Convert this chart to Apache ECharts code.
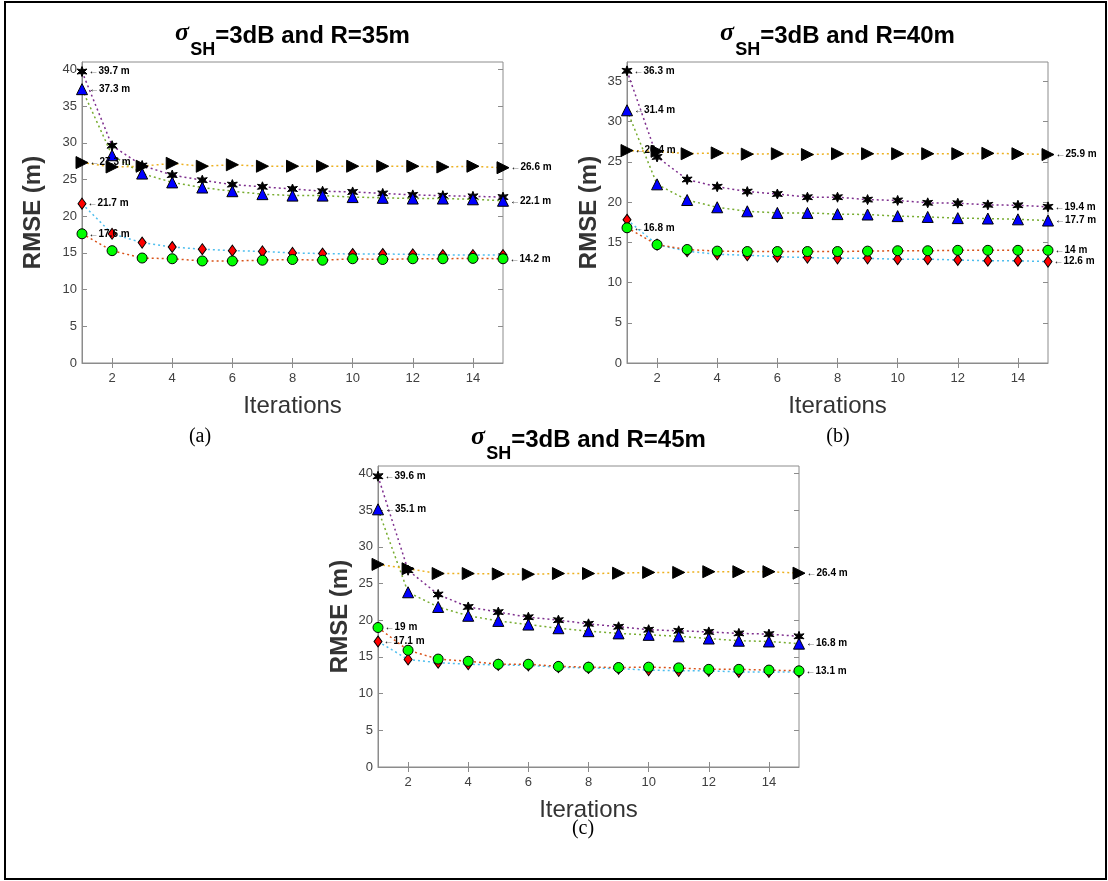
<!DOCTYPE html>
<html>
<head>
<meta charset="utf-8">
<title>RMSE vs iterations</title>
<script src="https://cdn.jsdelivr.net/npm/echarts@6.0.0/dist/echarts.min.js"></script>
<style>
    html, body { margin: 0; padding: 0; background: #fff; }
    #chart { width: 1108px; height: 881px; }
</style>
</head>
<body>
<div id="chart"></div>
<script>
// x values shared by every panel
var iterations = [1, 2, 3, 4, 5, 6, 7, 8, 9, 10, 11, 12, 13, 14, 15];
var xTicks = [2, 4, 6, 8, 10, 12, 14];

// (a) sigma_SH = 3 dB, R = 35 m
var starA = [39.7, 29.6, 26.9, 25.6, 24.9, 24.3, 24.0, 23.7, 23.4, 23.3, 23.1, 22.9, 22.8, 22.7, 22.6];
var triA = [37.3, 28.3, 25.8, 24.6, 23.9, 23.4, 23.0, 22.8, 22.8, 22.6, 22.5, 22.4, 22.4, 22.3, 22.1];
var rtriA = [27.3, 26.7, 26.8, 27.2, 26.8, 27.0, 26.8, 26.8, 26.8, 26.8, 26.8, 26.8, 26.7, 26.8, 26.6];
var diaA = [21.7, 17.6, 16.4, 15.8, 15.5, 15.3, 15.2, 15.0, 14.9, 14.85, 14.85, 14.8, 14.7, 14.7, 14.7];
var cirA = [17.6, 15.3, 14.3, 14.2, 13.9, 13.9, 14.0, 14.1, 14.0, 14.2, 14.1, 14.2, 14.2, 14.25, 14.2];

// (b) sigma_SH = 3 dB, R = 40 m
var starB = [36.3, 25.6, 22.8, 21.9, 21.3, 21.0, 20.6, 20.6, 20.3, 20.2, 19.9, 19.85, 19.65, 19.6, 19.4];
var triB = [31.4, 22.2, 20.25, 19.35, 18.85, 18.65, 18.65, 18.5, 18.45, 18.25, 18.15, 18.0, 17.95, 17.85, 17.7];
var rtriB = [26.4, 26.3, 26.0, 26.1, 25.95, 26.0, 25.9, 26.0, 26.0, 26.0, 26.0, 26.0, 26.05, 26.0, 25.9];
var diaB = [17.8, 14.7, 13.9, 13.5, 13.4, 13.2, 13.1, 13.0, 13.0, 12.9, 12.9, 12.8, 12.7, 12.7, 12.6];
var cirB = [16.8, 14.7, 14.1, 13.9, 13.85, 13.85, 13.85, 13.85, 13.9, 13.95, 13.95, 14.0, 14.0, 14.0, 14];

// (c) sigma_SH = 3 dB, R = 45 m
var starC = [39.6, 26.8, 23.5, 21.8, 21.1, 20.4, 20.0, 19.5, 19.1, 18.7, 18.55, 18.4, 18.2, 18.1, 17.8];
var triC = [35.1, 23.8, 21.8, 20.6, 19.9, 19.4, 18.9, 18.5, 18.2, 18.0, 17.8, 17.5, 17.2, 17.1, 16.8];
var rtriC = [27.6, 27.0, 26.35, 26.35, 26.3, 26.25, 26.35, 26.35, 26.4, 26.5, 26.5, 26.6, 26.6, 26.6, 26.4];
var diaC = [17.1, 14.65, 14.2, 14.0, 13.9, 13.85, 13.6, 13.5, 13.4, 13.2, 13.1, 13.1, 12.95, 12.95, 12.95];
var cirC = [19, 15.9, 14.7, 14.4, 14.0, 14.0, 13.7, 13.6, 13.55, 13.6, 13.5, 13.3, 13.3, 13.2, 13.1];

// which curves carry a value label on their first / last point
var firstLabelsA = ['star', 'tri', 'rtri', 'dia', 'cir'];
var lastLabelsA = ['rtri', 'tri', 'cir'];
var firstLabelsB = ['star', 'tri', 'rtri', 'cir'];
var lastLabelsB = ['rtri', 'star', 'tri', 'cir', 'dia'];
var firstLabelsC = ['star', 'tri', 'cir', 'dia'];
var lastLabelsC = ['rtri', 'tri', 'cir'];

var titlesR = ['35m', '40m', '45m'];
var captions = ['(a)', '(b)', '(c)'];
var yTicksA = [0, 5, 10, 15, 20, 25, 30, 35, 40];
var yTicksB = [0, 5, 10, 15, 20, 25, 30, 35];
var yTicksC = [0, 5, 10, 15, 20, 25, 30, 35, 40];

var starPath = 'path://M0,-10 L2.2,-3.8 L8.7,-5 L4.4,0 L8.7,5 L2.2,3.8 L0,10 L-2.2,3.8 L-8.7,5 L-4.4,0 L-8.7,-5 L-2.2,-3.8 Z';

var markers = {
    star: {line: '#7E2F8E', symbol: starPath, size: 10, rotate: 0, fill: '#000000'},
    tri: {line: '#77AC30', symbol: 'triangle', size: 11, rotate: 0, fill: '#0000FF'},
    rtri: {line: '#EDB120', symbol: 'triangle', size: 12, rotate: -90, fill: '#000000'},
    dia: {line: '#4DBEEE', symbol: 'diamond', size: [8, 11], rotate: 0, fill: '#FF0000'},
    cir: {line: '#D95319', symbol: 'circle', size: 10, rotate: 0, fill: '#00FF00'}
};
var order = ['star', 'tri', 'rtri', 'dia', 'cir'];

var panels = [
    {
        data: {star: starA, tri: triA, rtri: rtriA, dia: diaA, cir: cirA},
        first: firstLabelsA, last: lastLabelsA, yTicks: yTicksA, yMax: 41,
        grid: {left: 82, top: 62, width: 421, height: 301},
        nameGap: 37, caption: [200, 437]
    },
    {
        data: {star: starB, tri: triB, rtri: rtriB, dia: diaB, cir: cirB},
        first: firstLabelsB, last: lastLabelsB, yTicks: yTicksB, yMax: 37.4,
        grid: {left: 627, top: 62, width: 421, height: 301},
        nameGap: 26, caption: [838, 437]
    },
    {
        data: {star: starC, tri: triC, rtri: rtriC, dia: diaC, cir: cirC},
        first: firstLabelsC, last: lastLabelsC, yTicks: yTicksC, yMax: 41,
        grid: {left: 378, top: 466, width: 421, height: 301},
        nameGap: 26, caption: [583, 829]
    }
];

var axisGray = '#8c8c8c';
var tickText = {color: '#404040', fontSize: 13, fontFamily: 'Liberation Sans, Arial, sans-serif'};

var grids = [];
var xAxes = [];
var yAxes = [];
var series = [];
var titles = [];
var graphics = [];

function pointLabel() {
    return {
        show: true,
        position: 'right',
        distance: 1,
        color: '#000',
        fontSize: 10,
        fontWeight: 'bold',
        fontFamily: 'Liberation Sans, Arial, sans-serif',
        formatter: function (p) {
            return '\u2190' + p.value[1] + ' m';
        }
    };
}

panels.forEach(function (panel, k) {
    var g = panel.grid;
    grids.push({
        left: g.left, top: g.top, width: g.width, height: g.height,
        show: true, borderColor: axisGray, borderWidth: 1, backgroundColor: '#fff'
    });

    // bottom axis and its mirrored top ticks
    xAxes.push({
        type: 'value', gridIndex: k, min: 1, max: 15, position: 'bottom',
        name: 'Iterations', nameLocation: 'middle', nameGap: 31,
        nameTextStyle: {fontSize: 24, color: '#333', fontFamily: 'Liberation Sans, Arial, sans-serif'},
        axisLine: {lineStyle: {color: axisGray}},
        axisTick: {inside: true, length: 5, customValues: xTicks, lineStyle: {color: axisGray}},
        axisLabel: Object.assign({customValues: xTicks, margin: 9}, tickText),
        splitLine: {show: false}
    });
    xAxes.push({
        type: 'value', gridIndex: k, min: 1, max: 15, position: 'top',
        axisLine: {show: false},
        axisTick: {inside: true, length: 5, customValues: xTicks, lineStyle: {color: axisGray}},
        axisLabel: {show: false},
        splitLine: {show: false}
    });

    yAxes.push({
        type: 'value', gridIndex: k, min: 0, max: panel.yMax, position: 'left',
        name: 'RMSE (m)', nameLocation: 'middle', nameGap: panel.nameGap,
        nameTextStyle: {fontSize: 24, fontWeight: 'bold', color: '#333', fontFamily: 'Liberation Sans, Arial, sans-serif'},
        axisLine: {show: true, lineStyle: {color: axisGray}},
        axisTick: {show: true, inside: true, length: 5, customValues: panel.yTicks, lineStyle: {color: axisGray}},
        axisLabel: Object.assign({customValues: panel.yTicks, margin: 5}, tickText),
        splitLine: {show: false}
    });
    yAxes.push({
        type: 'value', gridIndex: k, min: 0, max: panel.yMax, position: 'right',
        axisLine: {show: false},
        axisTick: {show: true, inside: true, length: 5, customValues: panel.yTicks, lineStyle: {color: axisGray}},
        axisLabel: {show: false},
        splitLine: {show: false}
    });

    order.forEach(function (key, s) {
        var m = markers[key];
        var vals = panel.data[key];
        var data = iterations.map(function (x, i) {
            var item = {value: [x, vals[i]]};
            if ((i === 0 && panel.first.indexOf(key) >= 0)
                || (i === iterations.length - 1 && panel.last.indexOf(key) >= 0)) {
                item.label = pointLabel();
            }
            return item;
        });
        series.push({
            type: 'line',
            xAxisIndex: 2 * k,
            yAxisIndex: 2 * k,
            data: data,
            clip: false,
            symbol: m.symbol,
            symbolSize: m.size,
            symbolRotate: m.rotate,
            showAllSymbol: true,
            z: 2 + s,
            lineStyle: {color: m.line, width: 1.5, type: [2, 3]},
            itemStyle: {color: m.fill, borderColor: '#000', borderWidth: 1},
            label: {show: false},
            emphasis: {disabled: true}
        });
    });

    titles.push({
        text: '{s|\u03c3}{sub|SH}{t|=3dB and R=' + titlesR[k] + '}',
        left: g.left + g.width / 2,
        textAlign: 'center',
        top: g.top - 42,
        padding: 0,
        textStyle: {
            rich: {
                s: {fontSize: 26, fontStyle: 'italic', fontFamily: 'Liberation Serif, serif', color: '#000', verticalAlign: 'bottom', padding: [0, 1, 13, 0]},
                sub: {fontSize: 18, fontWeight: 'bold', fontFamily: 'Liberation Sans, Arial, sans-serif', color: '#000', verticalAlign: 'bottom'},
                t: {fontSize: 24, fontWeight: 'bold', fontFamily: 'Liberation Sans, Arial, sans-serif', color: '#000', verticalAlign: 'bottom', padding: [0, 0, 11, 0]}
            }
        }
    });

    graphics.push({
        type: 'text',
        x: panel.caption[0],
        y: panel.caption[1],
        style: {
            text: captions[k], fill: '#000', fontSize: 20,
            fontFamily: 'Liberation Serif, Times New Roman, serif',
            align: 'center', verticalAlign: 'middle'
        }
    });
});

// outer frame of the figure
graphics.push({
    type: 'rect',
    shape: {x: 5, y: 2, width: 1101, height: 877},
    style: {fill: 'none', stroke: '#000', lineWidth: 2},
    z: -1
});

var chart = echarts.init(document.getElementById('chart'), null, {renderer: 'canvas'});
chart.setOption({
    animation: false,
    backgroundColor: '#fff',
    title: titles,
    grid: grids,
    xAxis: xAxes,
    yAxis: yAxes,
    series: series,
    graphic: graphics
});
</script>
</body>
</html>
